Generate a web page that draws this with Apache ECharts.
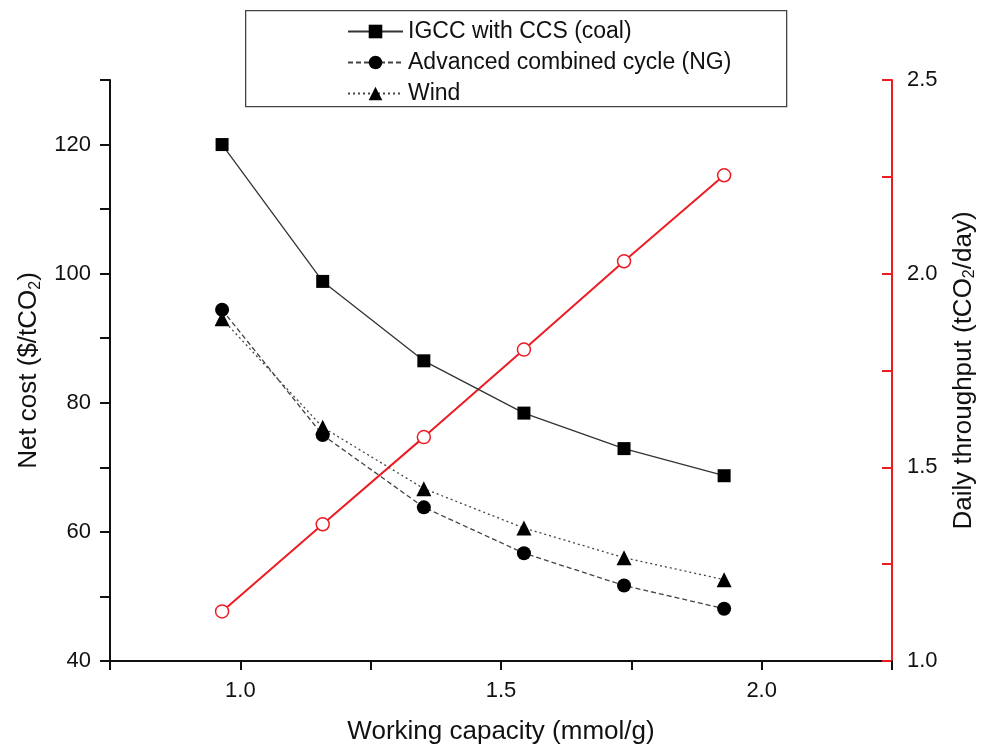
<!DOCTYPE html>
<html>
<head>
<meta charset="utf-8">
<script src="https://cdn.jsdelivr.net/npm/echarts@6/dist/echarts.min.js"></script>
<style>
  html, body { margin: 0; padding: 0; background: #fff; }
  #chart { width: 986px; height: 750px; }
</style>
</head>
<body>
<div id="chart"></div>
<script>
// working capacity (mmol/g)
const capacity = [0.965, 1.158, 1.352, 1.544, 1.736, 1.928];
// net cost ($/tCO2)
const costCoal = [120.0, 98.8, 86.5, 78.4, 72.9, 68.7];
const costNG = [94.4, 75.0, 63.8, 56.7, 51.7, 48.1];
const costWind = [93.0, 76.2, 66.7, 60.6, 56.0, 52.6];
// daily throughput (tCO2/day)
const throughput = [1.128, 1.353, 1.578, 1.804, 2.032, 2.254];

const legendNames = ["IGCC with CCS (coal)", "Advanced combined cycle (NG)", "Wind"];
const xLabels = [1.0, 1.5, 2.0];
const leftLabels = [40, 60, 80, 100, 120];
const rightLabels = [1.0, 1.5, 2.0, 2.5];

const font = "Liberation Sans, Arial, sans-serif";
const red = "#ec1c24";

function pairs(ys) {
  return capacity.map((x, i) => [x, ys[i]]);
}
function near(v, list) {
  return list.some((t) => Math.abs(t - v) < 1e-6);
}

const chart = echarts.init(document.getElementById("chart"));

const subStyle = { fontFamily: font, fontSize: 16, padding: [13, 0, 0, 0], color: "#111" };

const option = {
  animation: false,
  textStyle: { fontFamily: font },
  grid: { left: 110, right: 88, top: 80, bottom: 84 },
  graphic: [
    {
      type: "rect",
      left: 245,
      top: 10,
      shape: { width: 541, height: 96 },
      style: { fill: "#fff", stroke: "#444", lineWidth: 1.3 },
      z: 0,
    },
  ],
  legend: {
    data: legendNames,
    orient: "vertical",
    left: 342,
    top: 15,
    itemWidth: 55,
    itemHeight: 17,
    itemGap: 8,
    textStyle: { fontFamily: font, fontSize: 23, color: "#111" },
    z: 5,
  },
  xAxis: {
    type: "value",
    min: 0.75,
    max: 2.25,
    interval: 0.25,
    name: "Working capacity (mmol/g)",
    nameLocation: "middle",
    nameGap: 58,
    nameTextStyle: { fontFamily: font, fontSize: 26, color: "#111" },
    axisLine: { onZero: false, lineStyle: { color: "#111", width: 2 } },
    axisTick: { length: 9, lineStyle: { color: "#111", width: 2 } },
    axisLabel: {
      margin: 19,
      fontFamily: font,
      fontSize: 22,
      color: "#111",
      formatter: (v) => (near(v, xLabels) ? v.toFixed(1) : ""),
    },
    splitLine: { show: false },
  },
  yAxis: [
    {
      type: "value",
      min: 40,
      max: 130,
      interval: 10,
      position: "left",
      name: "Net cost ($/tCO{sub|2})",
      nameLocation: "middle",
      nameGap: 66,
      nameTextStyle: { fontFamily: font, fontSize: 26, color: "#111", rich: { sub: subStyle } },
      axisLine: { show: true, onZero: false, lineStyle: { color: "#111", width: 2 } },
      axisTick: { show: true, length: 10, lineStyle: { color: "#111", width: 2 } },
      axisLabel: {
        margin: 19,
        fontFamily: font,
        fontSize: 22,
        color: "#111",
        formatter: (v) => (near(v, leftLabels) ? String(v) : ""),
      },
      splitLine: { show: false },
    },
    {
      type: "value",
      min: 1.0,
      max: 2.5,
      interval: 0.25,
      position: "right",
      name: "Daily throughput (tCO{sub|2}/day)",
      nameLocation: "middle",
      nameGap: 57,
      nameRotate: 90,
      nameTextStyle: { fontFamily: font, fontSize: 26, color: "#111", rich: { sub: subStyle } },
      axisLine: { show: true, onZero: false, lineStyle: { color: red, width: 2 } },
      axisTick: { show: true, inside: true, length: 10, lineStyle: { color: red, width: 2 } },
      axisLabel: {
        margin: 15,
        fontFamily: font,
        fontSize: 22,
        color: "#111",
        formatter: (v) => (near(v, rightLabels) ? v.toFixed(1) : ""),
      },
      splitLine: { show: false },
    },
  ],
  series: [
    {
      name: legendNames[0],
      type: "line",
      yAxisIndex: 0,
      data: pairs(costCoal),
      symbol: "rect",
      symbolSize: 13,
      lineStyle: { color: "#333", width: 1.3, type: "solid" },
      itemStyle: { color: "#000" },
      z: 3,
    },
    {
      name: legendNames[1],
      type: "line",
      yAxisIndex: 0,
      data: pairs(costNG),
      symbol: "circle",
      symbolSize: 14,
      lineStyle: { color: "#444", width: 1.3, type: [5, 3] },
      itemStyle: { color: "#000" },
      z: 3,
    },
    {
      name: legendNames[2],
      type: "line",
      yAxisIndex: 0,
      data: pairs(costWind),
      symbol: "triangle",
      symbolSize: 15,
      lineStyle: { color: "#444", width: 1.3, type: [2, 3] },
      itemStyle: { color: "#000" },
      z: 3,
    },
    {
      name: "Daily throughput",
      type: "line",
      yAxisIndex: 1,
      data: pairs(throughput),
      symbol: "circle",
      symbolSize: 13,
      showAllSymbol: true,
      lineStyle: { color: red, width: 2 },
      itemStyle: { color: "#fff", borderColor: red, borderWidth: 1.5 },
      z: 2,
    },
  ],
};

chart.setOption(option);
window.addEventListener("resize", function () {
  chart.resize();
});
</script>
</body>
</html>
